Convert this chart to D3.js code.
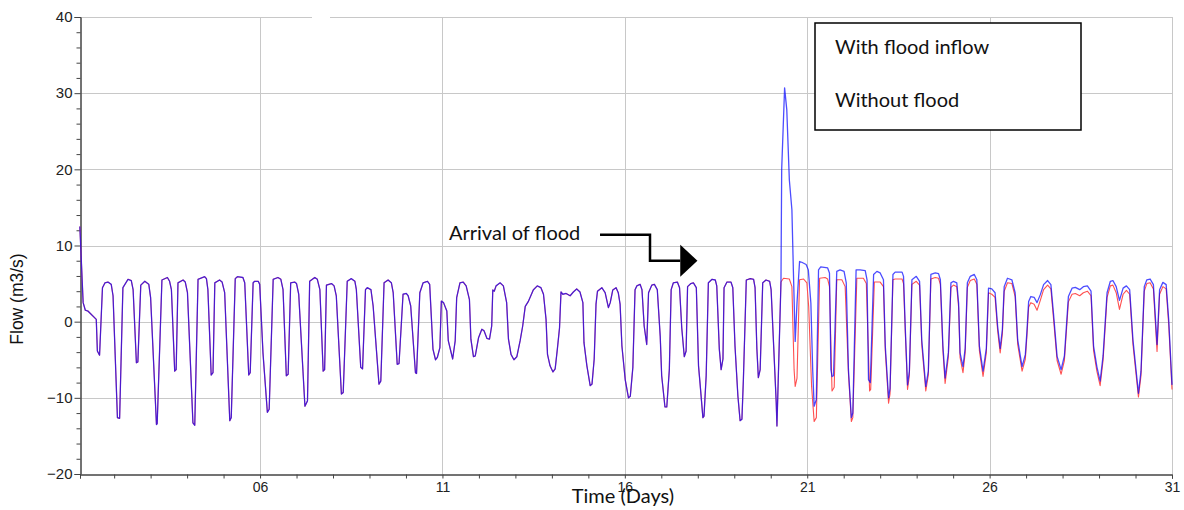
<!DOCTYPE html>
<html><head><meta charset="utf-8">
<script src="https://cdn.jsdelivr.net/npm/d3@7"></script>
<style>body{margin:0;background:#fff} svg{display:block}</style>
</head><body><svg id="c" width="1184" height="510"></svg>
<script>
// ---- data (time in days, flow in m3/s) ----
// shared part of both runs (before the flood arrives)
const preTimes = [1.06,1.15,1.21,1.28,1.51,1.54,1.60,1.68,1.75,1.83,1.92,1.97,2.09,2.15,2.24,2.38,2.47,2.52,2.61,2.65,2.73,2.84,2.95,3.00,3.16,3.18,3.31,3.46,3.52,3.57,3.66,3.70,3.75,3.89,3.95,4.01,4.16,4.21,4.30,4.48,4.53,4.57,4.66,4.71,4.76,4.89,4.96,5.03,5.17,5.21,5.32,5.38,5.53,5.58,5.69,5.73,5.81,5.85,5.95,5.99,6.08,6.20,6.25,6.36,6.49,6.57,6.63,6.72,6.77,6.84,6.95,7.00,7.06,7.23,7.30,7.36,7.50,7.57,7.64,7.73,7.77,7.82,7.96,8.03,8.09,8.23,8.28,8.39,8.50,8.60,8.64,8.76,8.81,8.89,8.94,9.04,9.10,9.26,9.31,9.40,9.51,9.60,9.65,9.76,9.81,9.92,10.01,10.06,10.13,10.26,10.29,10.38,10.47,10.59,10.65,10.74,10.81,10.86,10.93,10.97,11.03,11.12,11.16,11.28,11.35,11.39,11.48,11.57,11.65,11.74,11.78,11.85,11.90,11.99,12.08,12.14,12.22,12.29,12.35,12.38,12.42,12.47,12.58,12.67,12.76,12.81,12.88,12.96,13.04,13.13,13.20,13.27,13.36,13.49,13.60,13.70,13.77,13.84,13.88,13.95,14.03,14.09,14.15,14.21,14.25,14.30,14.39,14.50,14.59,14.68,14.77,14.85,14.88,14.96,15.05,15.10,15.16,15.21,15.25,15.37,15.46,15.55,15.60,15.67,15.76,15.82,15.87,15.92,16.01,16.10,16.15,16.22,16.28,16.33,16.42,16.47,16.53,16.60,16.65,16.74,16.81,16.89,16.97,17.01,17.10,17.15,17.22,17.27,17.33,17.44,17.50,17.56,17.63,17.68,17.72,17.81,17.88,17.96,18.02,18.06,18.14,18.17,18.23,18.29,18.39,18.48,18.52,18.59,18.64,18.69,18.72,18.80,18.91,18.96,19.02,19.10,19.16,19.21,19.25,19.33,19.44,19.53,19.57,19.62,19.66,19.71,19.78,19.87,19.97,20.01,20.08,20.15,20.17];
const preFlow = [12.5,2.5,1.5,1.4,0.3,-3.85,-4.4,4.46,5.1,5.2,4.9,3.4,-12.6,-12.7,4.46,5.56,5.4,4.2,-5.4,-5.3,4.8,5.3,4.9,3.15,-13.5,-13.4,5.47,5.8,5.3,4.2,-6.5,-6.3,5.1,5.47,5.2,3.8,-13.3,-13.6,5.56,5.9,5.65,4.2,-7.0,-6.7,5.1,5.47,5.2,3.8,-13.0,-12.6,5.65,5.9,5.8,5.1,-7.0,-6.7,5.1,5.3,5.3,4.9,-4.1,-11.9,-11.5,5.56,5.8,5.56,4.2,-7.1,-6.9,5.1,5.2,5.0,3.6,-11.1,-10.4,5.3,5.8,5.56,4.2,-6.5,-6.3,4.8,5.0,4.7,3.4,-9.5,-9.3,5.3,5.65,5.3,4.2,-6.0,-6.2,4.2,4.46,4.2,2.06,-8.2,-7.8,5.1,5.47,5.1,3.8,-5.6,-5.5,3.6,3.7,3.4,2.06,-6.7,-6.8,3.8,5.1,5.3,4.9,-3.6,-5.0,-4.7,-3.4,2.7,2.5,1.4,-2.5,-4.9,-2.5,3.15,5.1,5.2,4.7,2.9,-2.3,-4.6,-4.5,-2.1,-1.0,-1.2,-2.2,-2.3,-0.57,4.16,4.0,4.7,5.1,4.7,2.5,-2.3,-4.3,-5.0,-4.6,-2.5,-0.57,2.0,2.7,4.16,4.7,4.46,3.6,0.3,-4.3,-5.8,-6.6,-6.2,-3.6,-0.8,3.9,3.6,3.7,3.4,3.9,4.3,3.9,2.5,-2.76,-5.8,-8.4,-8.2,-4.9,2.3,4.0,4.46,3.8,1.84,2.5,4.16,4.46,3.8,2.3,-3.2,-7.6,-10.0,-9.8,-6.0,4.2,4.7,4.9,4.2,-0.57,-3.0,3.8,4.8,4.9,4.2,-1.9,-7.1,-11.2,-11.2,-6.3,4.2,5.1,5.2,4.46,-0.8,-4.6,-3.85,4.6,5.0,5.1,4.46,-5.8,-8.0,-12.6,-12.4,-7.1,5.1,5.56,5.47,4.7,-3.6,-6.3,-4.9,4.46,5.2,5.2,4.46,-3.2,-9.8,-13.0,-12.8,-7.6,5.47,5.65,5.56,4.46,-3.6,-7.35,-6.3,5.1,5.47,5.3,4.2,-3.2,-10.6,-13.7];

// "With flood inflow" after the flood arrives
const floodTimes = [20.28,20.30,20.38,20.44,20.51,20.58,20.62,20.67,20.72,20.79,20.85,20.97,21.03,21.10,21.15,21.19,21.25,21.31,21.37,21.56,21.61,21.65,21.68,21.72,21.81,21.90,22.01,22.07,22.13,22.21,22.25,22.34,22.45,22.59,22.64,22.68,22.73,22.82,22.91,23.00,23.09,23.14,23.23,23.27,23.35,23.41,23.60,23.64,23.69,23.75,23.80,23.87,23.99,24.08,24.14,24.25,24.32,24.39,24.51,24.60,24.65,24.72,24.78,24.87,24.94,25.01,25.10,25.15,25.19,25.27,25.33,25.39,25.47,25.58,25.65,25.72,25.82,25.91,25.97,26.06,26.15,26.22,26.29,26.35,26.40,26.49,26.61,26.70,26.77,26.89,26.98,27.02,27.07,27.13,27.22,27.30,27.39,27.48,27.59,27.68,27.75,27.85,27.96,28.05,28.16,28.26,28.35,28.47,28.57,28.68,28.78,28.85,28.94,29.03,29.11,29.22,29.31,29.38,29.47,29.56,29.66,29.75,29.84,29.93,30.08,30.15,30.24,30.31,30.40,30.49,30.59,30.66,30.75,30.84,30.91,31.00];
const floodFlow = [5.1,20,30.7,27.8,18.6,14.7,6.8,-2.6,2.45,7.9,7.8,7.5,6.8,2.45,-6.3,-11.1,-10.2,6.8,7.2,7.05,6.4,-6.3,-7.2,-7.1,6.6,6.8,6.6,5.1,-6.3,-12.6,-12.0,6.8,6.8,6.7,5.5,-7.6,-8.0,6.2,6.6,6.4,5.5,-3.2,-10.0,-8.8,6.2,6.5,6.5,5.95,-1.05,-8.3,-6.5,5.5,5.95,5.3,-2.4,-8.5,-6.5,6.2,6.4,6.3,5.5,-3.2,-7.4,-4.0,5.1,5.3,5.1,2.45,-4.1,-5.9,-3.5,5.1,5.95,6.2,5.5,-3.2,-6.5,-3.5,4.4,4.3,3.8,-0.6,-3.5,-1.0,4.6,5.7,5.5,3.8,-2.4,-5.9,-4.3,-1.5,2.66,3.3,3.2,2.5,3.55,4.86,5.4,4.86,1.14,-4.55,-6.3,-4.5,3.3,4.4,4.5,4.2,4.6,4.7,4.0,-3.2,-5.9,-7.8,-4.5,3.8,5.3,5.4,4.6,2.8,4.4,4.7,4.2,-2.4,-9.4,-6.5,4.6,5.5,5.6,4.86,-3.0,4.2,5.16,4.86,0.26,-8.3];

// "Without flood" after the same moment
const noFloodTimes = [20.28,20.35,20.51,20.58,20.64,20.67,20.72,20.79,20.90,20.99,21.04,21.12,21.19,21.25,21.34,21.49,21.56,21.61,21.68,21.74,21.81,21.95,22.04,22.13,22.21,22.25,22.36,22.54,22.62,22.71,22.74,22.84,23.00,23.09,23.14,23.23,23.27,23.35,23.41,23.60,23.64,23.69,23.75,23.80,23.87,23.99,24.08,24.14,24.25,24.32,24.39,24.51,24.60,24.65,24.72,24.78,24.87,24.94,25.01,25.10,25.15,25.19,25.27,25.33,25.39,25.47,25.58,25.65,25.72,25.82,25.91,25.97,26.06,26.15,26.22,26.29,26.35,26.40,26.49,26.61,26.70,26.77,26.89,26.98,27.02,27.07,27.13,27.22,27.30,27.39,27.48,27.59,27.68,27.75,27.85,27.96,28.05,28.16,28.26,28.35,28.47,28.57,28.68,28.78,28.85,28.94,29.03,29.11,29.22,29.31,29.38,29.47,29.56,29.66,29.75,29.84,29.93,30.08,30.15,30.24,30.31,30.40,30.49,30.59,30.66,30.75,30.84,30.91,31.00];
const noFloodFlow = [5.2,5.7,5.6,4.6,-6.3,-8.5,-7.4,5.5,5.6,5.1,2.0,-8.5,-13.1,-12.6,5.7,5.8,5.6,4.6,-9.1,-8.6,5.5,5.5,4.6,-6.8,-13.1,-12.6,5.7,5.7,5.0,-9.1,-8.9,5.2,5.2,4.6,-3.8,-10.7,-9.5,5.5,5.6,5.6,5.0,-1.6,-8.9,-7.1,4.9,5.3,4.8,-3.0,-9.1,-7.0,5.6,5.8,5.7,4.9,-3.8,-8.1,-4.6,4.5,4.8,4.6,1.9,-4.7,-6.7,-4.1,4.5,5.4,5.6,4.9,-3.8,-7.2,-4.1,3.8,3.6,3.2,-1.2,-4.1,-1.6,4.0,5.1,5.0,3.3,-3.0,-6.5,-4.9,-2.1,1.9,2.5,2.3,1.5,2.8,4.2,4.8,4.3,0.5,-5.1,-6.9,-5.1,2.6,3.6,3.7,3.4,3.8,4.0,3.4,-3.8,-6.5,-8.4,-5.1,3.2,4.7,4.8,3.8,1.6,3.6,4.1,3.6,-3.0,-9.9,-7.1,4.0,5.0,5.1,4.3,-3.9,3.6,4.6,4.3,-0.4,-8.9];

const yMajorTicks = [-20,-10,0,10,20,30,40];
const xMajorTicks = [6,11,16,21,26,31];
const xTickLabels = ["06","11","16","21","26","31"];
const legendLabels = ["With flood inflow","Without flood"];
const annotationText = "Arrival of flood";
const xTitle = "Time (Days)";
const yTitle = "Flow (m3/s)";

// ---- chart ----
const svg = d3.select("#c");
const L = 80, R = 1172, T = 17, B = 474;
const x = d3.scaleLinear().domain([1.064, 31]).range([L, R]);
const y = d3.scaleLinear().domain([-20, 40]).range([B, T]);

const grid = svg.append("g").attr("stroke", "#c8c8c8").attr("stroke-width", 1);
grid.selectAll("line.h").data(yMajorTicks.filter(v => v > -20)).join("line")
  .attr("x1", L).attr("x2", R).attr("y1", d => Math.round(y(d)) + 0.5).attr("y2", d => Math.round(y(d)) + 0.5);
grid.selectAll("line.v").data(xMajorTicks).join("line")
  .attr("y1", T).attr("y2", B).attr("x1", d => Math.round(x(d)) + 0.5).attr("x2", d => Math.round(x(d)) + 0.5);

// small white gap on the top grid line, as in the source
svg.append("rect").attr("x", 312).attr("y", 12).attr("width", 18).attr("height", 8).attr("fill", "#fff");

// axes
const font = "'Liberation Sans', Arial, sans-serif";
const yMinor = d3.range(-20, 41, 2).filter(v => v % 10 !== 0);
svg.append("g").attr("transform", `translate(${L + 0.5},0)`)
  .call(d3.axisLeft(y).tickValues(yMinor).tickSize(4).tickFormat(""));
const gy = svg.append("g").attr("transform", `translate(${L + 0.5},0)`)
  .call(d3.axisLeft(y).tickValues(yMajorTicks).tickSize(6).tickPadding(2).tickFormat(d3.format("d")));
gy.selectAll("text").attr("font-family", font).attr("font-size", 15).attr("fill", "#222");

const xMinor = d3.range(2, 31).filter(v => !xMajorTicks.includes(v));
svg.append("g").attr("transform", `translate(0,${B + 0.5})`)
  .call(d3.axisBottom(x).tickValues(xMinor).tickSize(4).tickFormat(""));
const gx = svg.append("g").attr("transform", `translate(0,${B + 0.5})`)
  .call(d3.axisBottom(x).tickValues(xMajorTicks).tickSize(4).tickPadding(4).tickFormat((d, i) => xTickLabels[i]));
gx.selectAll("text").attr("font-family", font).attr("font-size", 14).attr("fill", "#222");
svg.selectAll(".domain").attr("stroke", "#444");
svg.selectAll(".tick line").attr("stroke", "#444");

// lines
const line = d3.line().x(d => x(d[0])).y(d => y(d[1]));
const redData = d3.zip(preTimes.concat(noFloodTimes), preFlow.concat(noFloodFlow));
const blueData = d3.zip(preTimes.concat(floodTimes), preFlow.concat(floodFlow));
svg.append("path").datum(redData).attr("d", line)
  .attr("fill", "none").attr("stroke", "#ff5050").attr("stroke-width", 1.1).attr("stroke-linejoin", "round");
svg.append("path").datum(blueData).attr("d", line)
  .attr("fill", "none").attr("stroke", "#0000ff").attr("stroke-width", 1.3).attr("stroke-opacity", 0.7).attr("stroke-linejoin", "round");

// titles
const tfont = "Lato, 'Open Sans', sans-serif";
svg.append("text").attr("x", 623).attr("y", 503).attr("text-anchor", "middle")
  .attr("font-family", tfont).attr("font-size", 20).attr("fill", "#111").text(xTitle);
svg.append("text").attr("transform", "translate(23,299) rotate(-90)").attr("text-anchor", "middle")
  .attr("font-family", font).attr("font-size", 17.5).attr("fill", "#111").text(yTitle);

// legend box
const lg = svg.append("g");
lg.append("rect").attr("x", 815).attr("y", 23).attr("width", 266).attr("height", 107)
  .attr("fill", "#fff").attr("stroke", "#000").attr("stroke-width", 1.5);
lg.selectAll("text").data(legendLabels).join("text")
  .attr("x", 835).attr("y", (d, i) => 54 + i * 53)
  .attr("font-family", tfont).attr("font-size", 20).attr("fill", "#111").text(d => d);

// annotation (in data units)
const annText = [11.18, 10.7];
const annPath = [[15.32, 11.42], [16.69, 11.42], [16.69, 8.0], [17.52, 8.0]];
const annHead = [[17.52, 10.1], [17.99, 8.0], [17.52, 5.9]];
svg.append("text").attr("x", x(annText[0])).attr("y", y(annText[1]))
  .attr("font-family", tfont).attr("font-size", 20).attr("fill", "#111").text(annotationText);
svg.append("path").attr("d", d3.line().x(d => x(d[0])).y(d => y(d[1]))(annPath))
  .attr("fill", "none").attr("stroke", "#000").attr("stroke-width", 2.5);
svg.append("path").attr("d", d3.line().x(d => x(d[0])).y(d => y(d[1]))(annHead) + "Z")
  .attr("fill", "#000");
</script></body></html>
